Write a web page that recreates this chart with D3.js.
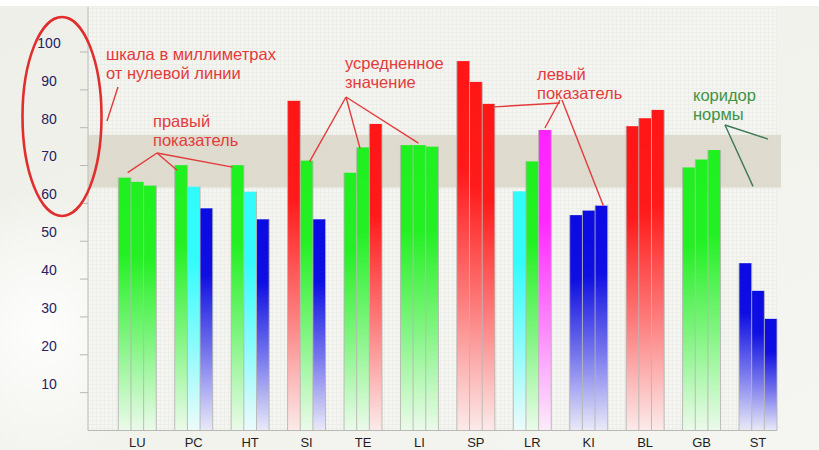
<!DOCTYPE html>
<html><head><meta charset="utf-8">
<script src="https://cdn.jsdelivr.net/npm/d3@7"></script>
<style>html,body{margin:0;padding:0;background:#f2f2ed;}svg{display:block;}</style>
</head><body>
<script>
// ---- data ----
const categories = ["LU","PC","HT","SI","TE","LI","SP","LR","KI","BL","GB","ST"];
const rightVals = [66.8, 70.1, 70.1, 87.1, 68.1, 75.4, 97.6, 63.2, 56.9, 80.4, 69.5, 44.2];
const avgVals   = [65.7, 64.4, 63.1, 71.3, 74.8, 75.4, 92.1, 71.1, 58.1, 82.5, 71.6, 36.9];
const leftVals  = [64.7, 58.7, 55.8, 55.8, 81.0, 75.0, 86.3, 79.4, 59.4, 84.7, 74.1, 29.5];
const rightColors = ["green","green","green","red","green","green","red","cyan","blue","red","green","blue"];
const avgColors   = ["green","cyan","cyan","green","green","green","red","green","blue","red","green","blue"];
const leftColors  = ["green","blue","blue","blue","red","green","red","magenta","blue","red","green","blue"];
const yTicks = [10,20,30,40,50,60,70,80,90,100];
const normCorridor = [64.2, 78.1];

const palette = {green:"#1ff01f", cyan:"#30fbfb", blue:"#0a0ae2", red:"#ff1616", magenta:"#ff24ff"};

const W = 819, H = 450;
const svg = d3.select("body").append("svg").attr("width", W).attr("height", H);
const defs = svg.append("defs");

// background
const bg = defs.append("linearGradient").attr("id","bg").attr("x1",0).attr("y1",0).attr("x2",1).attr("y2",1);
bg.append("stop").attr("offset",0).attr("stop-color","#efefe9");
bg.append("stop").attr("offset",1).attr("stop-color","#f5f5f1");
svg.append("rect").attr("width",W).attr("height",H).attr("fill","url(#bg)");
const glow = defs.append("radialGradient").attr("id","glow").attr("cx",0.5).attr("cy",0.5).attr("r",0.5);
glow.append("stop").attr("offset",0).attr("stop-color","#ffffff").attr("stop-opacity",0.9);
glow.append("stop").attr("offset",1).attr("stop-color","#ffffff").attr("stop-opacity",0);
svg.append("ellipse").attr("cx",40).attr("cy",330).attr("rx",120).attr("ry",140).attr("fill","url(#glow)");
svg.append("rect").attr("width",W).attr("height",6).attr("fill","#ffffff");

// grid pattern for the plot area
const pat = defs.append("pattern").attr("id","grid").attr("width",4).attr("height",4).attr("patternUnits","userSpaceOnUse");
pat.append("rect").attr("width",4).attr("height",4).attr("fill","#f5f5f2");
pat.append("path").attr("d","M0,0.5H4M0.5,0V4").attr("stroke","#ecece8").attr("stroke-width",1);

// scales
const y = d3.scaleLinear().domain([0,100]).range([430.5, 52]);
const x = d3.scaleBand().domain(categories).range([118.3, 777]).paddingInner(0.327).paddingOuter(0);
const inner = d3.scaleBand().domain([0,1,2]).range([0, x.bandwidth()]);
const axisX = 88;

svg.append("rect").attr("x",axisX).attr("y",7).attr("width",x.range()[1]-axisX).attr("height",y(0)-7)
  .attr("fill","url(#grid)").attr("opacity",0.85);

// norm corridor
svg.append("rect").attr("x",axisX).attr("y",y(normCorridor[1]))
  .attr("width",781-axisX).attr("height",y(normCorridor[0])-y(normCorridor[1]))
  .attr("fill","#dbd8cb").attr("opacity",0.9);

// gradients per colour
Object.entries(palette).forEach(([k,c])=>{
  const g = defs.append("linearGradient").attr("id","g-"+k).attr("x1",0).attr("y1",0).attr("x2",0).attr("y2",1);
  const mix = d3.interpolateRgb(c, "#fbfbfa");
  [[0,0],[0.3,0.02],[0.65,0.45],[1,0.93]].forEach(([o,t])=>
    g.append("stop").attr("offset",o).attr("stop-color",mix(t)));
});

// bars
const series = [rightVals, avgVals, leftVals];
const seriesColors = [rightColors, avgColors, leftColors];
const bars = [];
categories.forEach((c,i)=>series.forEach((s,j)=>bars.push({cat:c, idx:j, v:s[i], col:seriesColors[j][i]})));

const bw = inner.bandwidth();
svg.append("g").selectAll("rect").data(bars).join("rect")
  .attr("x", d=>x(d.cat)+inner(d.idx))
  .attr("y", d=>y(d.v))
  .attr("width", bw)
  .attr("height", d=>y(0)-y(d.v))
  .attr("fill", d=>"url(#g-"+d.col+")");

// bar edge lines
const edges = [];
categories.forEach((c,i)=>[0,1,2,3].forEach(k=>{
  const top = k===0 ? series[0][i] : (k===3 ? series[2][i] : Math.max(series[k-1][i], series[k][i]));
  edges.push({x: x(c)+k*bw, top});
}));
svg.append("g").selectAll("line").data(edges).join("line")
  .attr("x1",d=>d.x).attr("x2",d=>d.x).attr("y1",d=>y(d.top)).attr("y2",y(0))
  .attr("stroke","#b4b4b0").attr("stroke-width",1).attr("opacity",0.85);

// axes
svg.append("line").attr("x1",axisX).attr("x2",axisX).attr("y1",7).attr("y2",y(0))
  .attr("stroke","#c4c4c0").attr("stroke-width",1.2);
svg.append("line").attr("x1",axisX).attr("x2",x.range()[1]).attr("y1",y(0)).attr("y2",y(0))
  .attr("stroke","#b8b8b4").attr("stroke-width",1.2);

const yAxis = svg.append("g");
yAxis.selectAll("line").data(yTicks).join("line")
  .attr("x1",80).attr("x2",axisX).attr("y1",d=>y(d)).attr("y2",d=>y(d))
  .attr("stroke","#b8b8b4").attr("stroke-width",1);
yAxis.selectAll("text").data(yTicks).join("text")
  .attr("x",49).attr("y",d=>y(d)-9).attr("dy","0.35em").attr("text-anchor","middle")
  .attr("font-family","Liberation Sans, Arial, sans-serif").attr("font-size",14)
  .attr("fill","#23235e").text(d=>d);

svg.append("g").selectAll("text").data(categories).join("text")
  .attr("x",d=>x(d)+x.bandwidth()/2).attr("y",442).attr("dy","0.35em").attr("text-anchor","middle")
  .attr("font-family","Liberation Sans, Arial, sans-serif").attr("font-size",13)
  .attr("fill","#1e1e1e").text(d=>d);

// annotations
const RED = "#e33b3b", GREEN = "#3d9446";
const font = "Liberation Sans, Arial, sans-serif";
function label(lines, x0, y0, color){
  lines.forEach((t,i)=>svg.append("text").attr("x",x0).attr("y",y0+i*19)
    .attr("font-family",font).attr("font-size",16.5).attr("fill",color).text(t));
}
function barTop(cat, idx, dx, dy){
  const i = categories.indexOf(cat);
  return [x(cat)+inner(idx)+bw/2+dx, y(series[idx][i])+dy];
}
function leader(from, to, color){
  svg.append("line").attr("x1",from[0]).attr("y1",from[1]).attr("x2",to[0]).attr("y2",to[1])
    .attr("stroke",color).attr("stroke-width",1.4);
}

// scale ellipse
svg.append("ellipse").attr("cx",62).attr("cy",116.5).attr("rx",39.5).attr("ry",99.5)
  .attr("fill","none").attr("stroke","#e02e2e").attr("stroke-width",2.6);
label(["шкала в миллиметрах","от нулевой линии"], 106, 60, RED);
leader([118,87],[107,121],RED);

label(["правый","показатель"], 153, 127, RED);
leader([157,153], barTop("LU",0,3,-5), RED);
leader([157,153], barTop("PC",0,-4,5), RED);
leader([157,153], barTop("HT",0,-5,2), RED);

label(["усредненное","значение"], 345, 69, RED);
leader([346,97], barTop("SI",1,3,1), RED);
leader([346,97], barTop("TE",1,-3,1), RED);
leader([346,97], barTop("LI",1,-1,-2), RED);

label(["левый","показатель"], 537, 80, RED);
leader([560,103], barTop("SP",2,6,3), RED);
leader([560,100], barTop("LR",2,0,-2), RED);
leader([562,100], barTop("KI",2,2,0), RED);

label(["коридор","нормы"], 693, 101, GREEN);
leader([725,125],[768,y(77)],"#3d7a55");
leader([725,125],[753,y(64.5)],"#3d7a55");
</script>
</body></html>
